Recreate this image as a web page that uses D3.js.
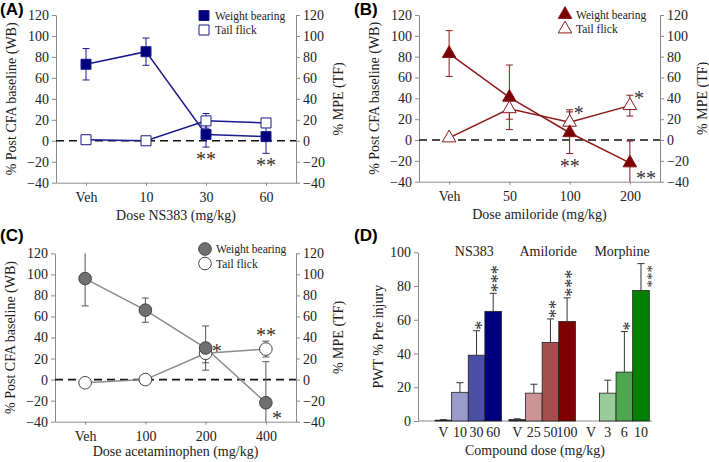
<!DOCTYPE html>
<html>
<head>
<meta charset="utf-8">
<script src="https://cdn.jsdelivr.net/npm/d3@7"></script>
<style>
  body { margin: 0; background: #fff; }
</style>
</head>
<body>
<svg id="fig" width="709" height="462" font-family="'Liberation Serif', 'Times New Roman', serif"></svg>
<script>
// DATA
// ---------------------------------------------------------------------------------------------
const dosesA = ["Veh", "10", "30", "60"];
const wbA = [73, 85, 6, 4];
const wbErrA = [15, 13, 12, 16];
const tfA = [1, 0, 19, 17];
const tfErrA = [0, 0, 7, 2];

const dosesB = ["Veh", "50", "100", "200"];
const wbB = [83, 41, 7, -22];
const wbErrB = [22, 31, 20, 21];
const tfB = [2, 30, 17, 33];
const tfErrB = [1, 10, 12, 10];

const dosesC = ["Veh", "100", "200", "400"];
const wbC = [96, 66, 30, -22];
const wbErrC = [26, 11.5, 21, 39];
const tfC = [-3, 0, 25, 29];
const tfErrC = [0, 0, 9, 7.5];

// significance marks: [series, dose index, text, placement]
const starsA = [["wb", 2, "**", "below"], ["wb", 3, "**", "below"]];
const starsB = [["tf", 2, "*", "upright"], ["wb", 2, "**", "below"], ["tf", 3, "*", "upright"], ["wb", 3, "**", "downright"]];
const starsC = [["wb", 2, "*", "right"], ["tf", 3, "**", "above"], ["wb", 3, "*", "downright"]];

const yTicksLine = [-40, -20, 0, 20, 40, 60, 80, 100, 120];

const groupsD = ["NS383", "Amiloride", "Morphine"];
const doseLabelsD = [["V", "10", "30", "60"], ["V", "25", "50", "100"], ["V", "3", "6", "10"]];
const meansD = [[0.5, 17, 39, 65], [0.8, 16.5, 46.5, 59], [0, 16.5, 29, 77.3]];
const errD = [[0.3, 5.7, 14.5, 10.7], [0.5, 5.3, 14, 14], [0, 7.7, 24, 16]];
const starsD = [["", "", "*", "***"], ["", "", "**", "***"], ["", "", "*", "***"]];
const yTicksD = [0, 20, 40, 60, 80, 100];

// STYLES
// ---------------------------------------------------------------------------------------------
const SERIF = "'Liberation Serif', 'Times New Roman', serif";
const SANS = "'Liberation Sans', Arial, sans-serif";
const paletteD = [
  ["#222", "#9a9acc", "#4b4fa6", "#00007f"],
  ["#222", "#cc9494", "#a64d4d", "#800000"],
  ["#222", "#99cc99", "#4da64d", "#008000"]
];
const axisColor = "#8a8a8a";
const textColor = "#222";
const svg = d3.select("#fig");

function txt(sel, size) {
  return sel.append("text").style("font-family", SERIF).style("font-size", size + "px").attr("fill", textColor);
}

function styleAxis(g) {
  g.attr("font-family", null).attr("font-size", null);
  g.select(".domain").attr("stroke", axisColor);
  g.selectAll(".tick line").attr("stroke", axisColor);
  g.selectAll(".tick text").style("font-family", SERIF).style("font-size", "14px").attr("fill", textColor);
}

// LINE PANELS (A, B, C)
// ---------------------------------------------------------------------------------------------
function linePanel(p) {
  const g = svg.append("g");
  const x = d3.scalePoint().domain(p.doses).range([p.x0, p.x1]).padding(0.5);
  const y = d3.scaleLinear([-40, 120], [p.bottom, p.top]);
  const cl = v => Math.max(-40, Math.min(120, v));

  // axes
  g.append("g").attr("transform", `translate(${p.x0},0)`)
    .call(d3.axisLeft(y).tickValues(yTicksLine).tickSize(4).tickSizeOuter(0).tickPadding(3))
    .call(styleAxis);
  g.append("g").attr("transform", `translate(${p.x1},0)`)
    .call(d3.axisRight(y).tickValues(yTicksLine).tickSize(4).tickSizeOuter(0).tickPadding(3))
    .call(styleAxis);
  g.append("g").attr("transform", `translate(0,${p.bottom})`)
    .call(d3.axisBottom(x).tickSize(3).tickSizeOuter(0).tickPadding(6))
    .call(styleAxis);

  // zero line
  g.append("line")
    .attr("x1", p.x0).attr("x2", p.x1)
    .attr("y1", y(0)).attr("y2", y(0))
    .attr("stroke", "#111").attr("stroke-width", 1.6).attr("stroke-dasharray", "8,5");

  const series = [
    { key: "tf", vals: p.tf, err: p.tfErr, fill: "#fff" },
    { key: "wb", vals: p.wb, err: p.wbErr, fill: p.fill }
  ];
  const line = d3.line().x((d, i) => x(p.doses[i])).y(d => y(d));

  series.forEach(s => {
    // error bars
    s.vals.forEach((v, i) => {
      if (!s.err[i]) return;
      const cx = x(p.doses[i]);
      const lo = y(cl(v - s.err[i])), hi = y(cl(v + s.err[i]));
      g.append("line").attr("x1", cx).attr("x2", cx).attr("y1", lo).attr("y2", hi)
        .attr("stroke", p.errColor).attr("stroke-width", 1);
      [[v - s.err[i], lo], [v + s.err[i], hi]].forEach(([val, yy]) => {
        if (val < -40 || val > 120) return;
        g.append("line").attr("x1", cx - 3.5).attr("x2", cx + 3.5).attr("y1", yy).attr("y2", yy)
          .attr("stroke", p.errColor).attr("stroke-width", 1);
      });
    });
    g.append("path").datum(s.vals).attr("d", line)
      .attr("fill", "none").attr("stroke", p.lineColor).attr("stroke-width", 1.5);
  });

  series.forEach(s => {
    g.selectAll(null).data(s.vals).enter().append("path")
      .attr("transform", (d, i) => `translate(${x(p.doses[i])},${y(d)})`)
      .attr("d", d3.symbol().type(p.symbol).size(p.symSize)())
      .attr("fill", s.fill).attr("stroke", p.markStroke).attr("stroke-width", 1);
  });

  // stars
  p.stars.forEach(([key, i, mark, place]) => {
    const s = key === "wb" ? { v: p.wb, e: p.wbErr } : { v: p.tf, e: p.tfErr };
    const v = s.v[i], e = s.e[i];
    const cx = x(p.doses[i]);
    let tx = cx, ty = y(v), anchor = "middle";
    if (place === "below") { ty = y(cl(v - e)) + 19; }
    if (place === "above") { ty = y(v + e) + 1; }
    if (place === "upright") { tx = cx + 4; ty = y(v + e) + 10; anchor = "start"; }
    if (place === "right") { tx = cx + 6; ty = y(v) + 10; anchor = "start"; }
    if (place === "downright") { tx = cx + 6; ty = y(v) + 22; anchor = "start"; }
    txt(g, 20).attr("x", tx).attr("y", ty).attr("text-anchor", anchor)
      .attr("fill", "#333").text(mark);
  });

  // legend
  [["Weight bearing", p.fill], ["Tail flick", "#fff"]].forEach(([lab, f], i) => {
    const ly = p.legY + i * 14.5;
    g.append("path").attr("transform", `translate(${p.legX},${ly})`)
      .attr("d", d3.symbol().type(p.symbol).size(p.symSize)())
      .attr("fill", f).attr("stroke", p.markStroke);
    txt(g, 11.5).attr("x", p.legX + 11).attr("y", ly + 4).text(lab);
  });

  // axis titles
  const mid = (p.top + p.bottom) / 2;
  txt(g, 14).attr("transform", `translate(${p.x0 - 45},${mid}) rotate(-90)`)
    .attr("text-anchor", "middle").attr("dy", "0.35em")
    .text("% Post CFA baseline (WB)");
  txt(g, 14).attr("transform", `translate(${p.x1 + 42},${mid}) rotate(-90)`)
    .attr("text-anchor", "middle").attr("dy", "0.35em")
    .text("% MPE (TF)");
  txt(g, 14).attr("x", (p.x0 + p.x1) / 2).attr("y", p.bottom + p.xlabDy)
    .attr("text-anchor", "middle").text(p.xlabel);

  svg.append("text").style("font-family", SANS).style("font-weight", "bold")
    .attr("x", p.lx).attr("y", p.ly)
    .style("font-size", "17px").attr("fill", "#000").text(p.label);
}

linePanel({
  label: "(A)", lx: 0, ly: 15,
  doses: dosesA, wb: wbA, wbErr: wbErrA, tf: tfA, tfErr: tfErrA, stars: starsA,
  x0: 56, x1: 296, top: 15, bottom: 182.7,
  symbol: d3.symbolSquare, symSize: 100,
  fill: "#00007f", lineColor: "#1a1a8a", errColor: "#1a1a8a", markStroke: "#1a1a8a",
  legX: 204, legY: 15.5, xlabel: "Dose NS383 (mg/kg)", xlabDy: 37
});
linePanel({
  label: "(B)", lx: 354, ly: 15,
  doses: dosesB, wb: wbB, wbErr: wbErrB, tf: tfB, tfErr: tfErrB, stars: starsB,
  x0: 419, x1: 660, top: 15, bottom: 181.7,
  symbol: d3.symbolTriangle, symSize: 80,
  fill: "#7a0000", lineColor: "#8b1a1a", errColor: "#8b1a1a", markStroke: "#8b1a1a",
  legX: 565, legY: 14.5, xlabel: "Dose amiloride (mg/kg)", xlabDy: 37
});
linePanel({
  label: "(C)", lx: 0, ly: 241,
  doses: dosesC, wb: wbC, wbErr: wbErrC, tf: tfC, tfErr: tfErrC, stars: starsC,
  x0: 55, x1: 296, top: 253.3, bottom: 421.7,
  symbol: d3.symbolCircle, symSize: 125,
  fill: "#707070", lineColor: "#8a8a8a", errColor: "#555", markStroke: "#444",
  legX: 205, legY: 249, xlabel: "Dose acetaminophen (mg/kg)", xlabDy: 34
});

// BAR PANEL (D)
// ---------------------------------------------------------------------------------------------
(function () {
  const g = svg.append("g");
  const x0 = 418, x1 = 652, top = 252.3, bottom = 421;
  const y = d3.scaleLinear([0, 100], [bottom, top]);
  const gx = d3.scaleBand().domain(groupsD).range([435, 649.3]).paddingInner(0.1);
  const bx = d3.scaleBand().domain([0, 1, 2, 3]).range([0, gx.bandwidth()]);

  g.append("g").attr("transform", `translate(${x0},0)`)
    .call(d3.axisLeft(y).tickValues(yTicksD).tickSize(4).tickSizeOuter(0).tickPadding(3))
    .call(styleAxis);
  g.append("line").attr("x1", x0).attr("x2", x1).attr("y1", bottom).attr("y2", bottom)
    .attr("stroke", axisColor);

  groupsD.forEach((grp, gi) => {
    const gg = g.append("g").attr("transform", `translate(${gx(grp)},0)`);
    meansD[gi].forEach((m, i) => {
      const bxl = bx(i), cx = bxl + bx.bandwidth() / 2;
      const e = errD[gi][i];
      if (e > 0) {
        gg.append("line").attr("x1", cx).attr("x2", cx).attr("y1", y(m)).attr("y2", y(m + e))
          .attr("stroke", "#333");
        gg.append("line").attr("x1", cx - 3.5).attr("x2", cx + 3.5).attr("y1", y(m + e)).attr("y2", y(m + e))
          .attr("stroke", "#333");
      }
      if (m > 0) {
        gg.append("rect").attr("x", bxl).attr("y", y(m))
          .attr("width", bx.bandwidth()).attr("height", y(0) - y(m))
          .attr("fill", paletteD[gi][i]).attr("stroke", "#222").attr("stroke-width", 0.8);
      }
      txt(gg, 14).attr("x", cx).attr("y", bottom + 16).attr("text-anchor", "middle")
        .text(doseLabelsD[gi][i]);
      const st = starsD[gi][i];
      if (st) {
        // the tallest bar's marks sit beside the bar to stay clear of the group title
        const side = gi === 2 && i === 3;
        const sx = side ? cx + 7 : cx;
        const sy = side ? y(m) - 3 : y(m + e) - 1;
        txt(gg, side ? 15 : 18).attr("transform", `translate(${sx},${sy}) rotate(-90)`)
          .attr("text-anchor", "start").attr("dy", "0.62em")
          .attr("fill", "#333").text(st);
      }
    });
    txt(g, 14).attr("x", gx(grp) + gx.bandwidth() / 2 + 6).attr("y", 256)
      .attr("text-anchor", "middle").text(grp);
  });

  txt(g, 14).attr("transform", `translate(378,${(top + bottom) / 2}) rotate(-90)`)
    .attr("text-anchor", "middle").attr("dy", "0.35em")
    .text("PWT % Pre injury");
  txt(g, 14).attr("x", (x0 + x1) / 2).attr("y", 455).attr("text-anchor", "middle")
    .text("Compound dose (mg/kg)");

  svg.append("text").style("font-family", SANS).style("font-weight", "bold")
    .attr("x", 354).attr("y", 241)
    .style("font-size", "17px").attr("fill", "#000").text("(D)");
})();
</script>
</body>
</html>
